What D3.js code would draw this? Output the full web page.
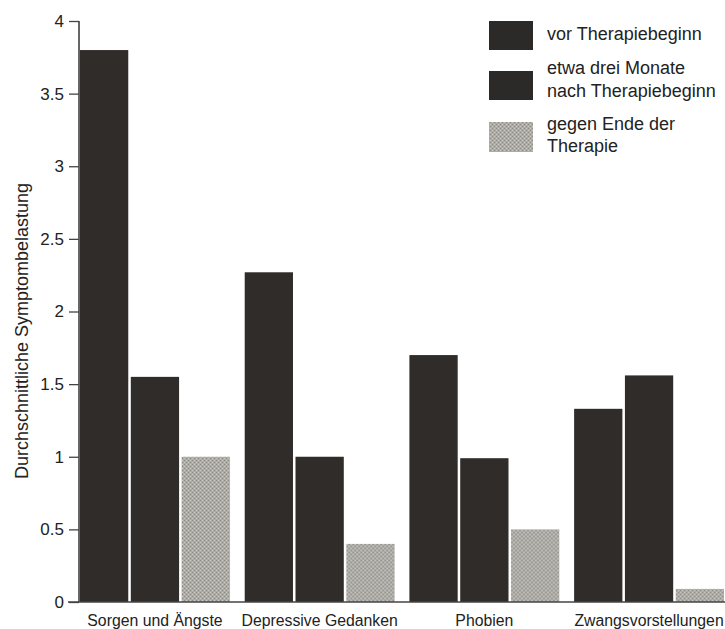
<!DOCTYPE html>
<html>
<head>
<meta charset="utf-8">
<script src="https://cdn.jsdelivr.net/npm/d3@7"></script>
<style>
  html, body { margin: 0; padding: 0; background: #fff; }
  svg { display: block; font-family: "Liberation Sans", Arial, Helvetica, sans-serif; }
</style>
</head>
<body>
<svg id="chart" width="725" height="629"></svg>
<script>
// ---- data ----
const categories = ["Sorgen und Ängste", "Depressive Gedanken", "Phobien", "Zwangsvorstellungen"];
const seriesNames = ["vor Therapiebeginn", "etwa drei Monate nach Therapiebeginn", "gegen Ende der Therapie"];
const legendLines = [["vor Therapiebeginn"], ["etwa drei Monate", "nach Therapiebeginn"], ["gegen Ende der", "Therapie"]];
const vorTherapie = [3.8, 2.27, 1.7, 1.33];
const dreiMonate = [1.55, 1.0, 0.99, 1.56];
const endeTherapie = [1.0, 0.4, 0.5, 0.09];
const yTicks = [0, 0.5, 1, 1.5, 2, 2.5, 3, 3.5, 4];
const yTickLabels = ["0", "0.5", "1", "1.5", "2", "2.5", "3", "3.5", "4"];
const yTitle = "Durchschnittliche Symptombelastung";

const seriesValues = [vorTherapie, dreiMonate, endeTherapie];

// ---- layout ----
const svg = d3.select("#chart");
const defs = svg.append("defs");

// textured grey pattern for the third series
const pat = defs.append("pattern").attr("id", "grain").attr("patternUnits", "userSpaceOnUse")
  .attr("width", 4).attr("height", 4);
pat.append("rect").attr("width", 4).attr("height", 4).attr("fill", "#aeaca6");
pat.append("rect").attr("x", 0).attr("y", 0).attr("width", 1).attr("height", 1).attr("fill", "#8c8a85");
pat.append("rect").attr("x", 2).attr("y", 2).attr("width", 1).attr("height", 1).attr("fill", "#8c8a85");
pat.append("rect").attr("x", 2).attr("y", 0).attr("width", 1).attr("height", 1).attr("fill", "#c8c6c0");
pat.append("rect").attr("x", 0).attr("y", 2).attr("width", 1).attr("height", 1).attr("fill", "#c8c6c0");

const fills = ["#2f2c2a", "#2f2c2a", "url(#grain)"];
const legendFills = ["#2b2a29", "#2b2a29", "url(#grain)"];

const y = d3.scaleLinear().domain([0, 4]).range([602, 21]);
const x0 = d3.scaleBand().domain(categories).range([80, 724]).paddingInner(0.09).paddingOuter(0);
const x1 = d3.scaleBand().domain(d3.range(seriesNames.length)).range([0, x0.bandwidth()]).paddingInner(0.05);

// bars
const groups = svg.append("g").selectAll("g").data(categories).join("g")
  .attr("transform", d => `translate(${x0(d)},0)`);
groups.selectAll("rect")
  .data((c, ci) => seriesValues.map((vals, si) => ({ si, v: vals[ci] })))
  .join("rect")
  .attr("x", d => x1(d.si))
  .attr("width", x1.bandwidth())
  .attr("y", d => y(d.v))
  .attr("height", d => y(0) - y(d.v))
  .attr("fill", d => fills[d.si]);

// y axis
const yAxis = d3.axisLeft(y).tickValues(yTicks).tickFormat((d, i) => yTickLabels[i]).tickSize(10).tickPadding(5);
const gy = svg.append("g").attr("transform", "translate(79,0)").call(yAxis);
gy.select(".domain").attr("stroke", "#333").attr("stroke-width", 1.5).attr("d", `M0,${y(4)}V${y(0)}`);
gy.selectAll(".tick line").attr("stroke", "#444").attr("stroke-width", 1.3);
gy.selectAll(".tick text").attr("font-size", 17).attr("fill", "#222")
  .attr("font-family", "'Liberation Sans', Arial, sans-serif");

// baseline
svg.append("line").attr("x1", 68).attr("x2", 725).attr("y1", y(0)).attr("y2", y(0))
  .attr("stroke", "#444").attr("stroke-width", 1.5);

// category labels
const xAxis = d3.axisBottom(x0).tickSize(0).tickPadding(13);
const gx = svg.append("g").attr("transform", `translate(0,${y(0)})`).call(xAxis);
gx.select(".domain").remove();
gx.selectAll(".tick text").attr("font-size", 15.8).attr("fill", "#222")
  .attr("font-family", "'Liberation Sans', Arial, sans-serif");

// y title
svg.append("text")
  .attr("transform", "translate(28,331) rotate(-90)")
  .attr("text-anchor", "middle")
  .attr("font-size", 18)
  .attr("fill", "#222")
  .text(yTitle);

// legend
const legendRectY = [21, 71, 122];
const legendRectH = [29, 29, 30];
const legendTextY = [[40], [74, 97], [130, 152]];
const leg = svg.append("g");
seriesNames.forEach((name, i) => {
  leg.append("rect").attr("x", 489).attr("y", legendRectY[i]).attr("width", 44).attr("height", legendRectH[i])
    .attr("fill", legendFills[i]);
  const t = leg.append("text").attr("font-size", 18).attr("fill", "#222");
  legendLines[i].forEach((line, j) => {
    t.append("tspan").attr("x", 547).attr("y", legendTextY[i][j]).text(line);
  });
});
</script>
</body>
</html>
